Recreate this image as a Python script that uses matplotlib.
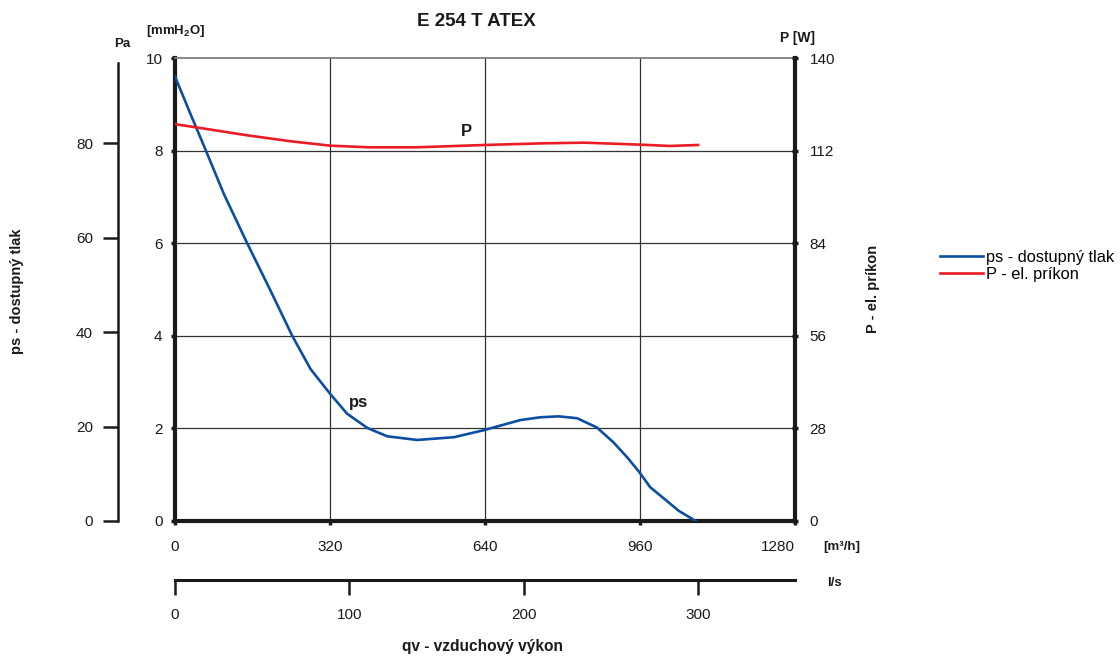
import matplotlib
matplotlib.use("Agg")
import matplotlib.pyplot as plt
import numpy as np

plt.rcParams['font.family'] = ['Liberation Sans', 'DejaVu Sans']
plt.rcParams['mathtext.fontset'] = 'custom'
plt.rcParams['mathtext.bf'] = 'Liberation Sans:bold'

# values
ps_q = [0, 32, 61, 101, 149, 197, 242, 280, 320, 355, 397, 438, 500, 576,
        637, 713, 754, 792, 830, 871, 905, 934, 959, 981, 1002, 1040, 1075]   # m3/h
ps_mm = [9.60, 8.79, 8.07, 7.06, 6.00, 4.98, 4.00, 3.28, 2.75, 2.32, 2.01,
         1.83, 1.75, 1.81, 1.96, 2.18, 2.24, 2.26, 2.22, 2.02, 1.70, 1.37,
         1.05, 0.73, 0.55, 0.22, 0.0]                                         # mmH2O

p_q = [0, 45, 150, 240, 320, 400, 500, 640, 760, 845, 960, 1022, 1080]   # m3/h
p_w = [120.0, 119.0, 116.6, 114.8, 113.5, 113.0, 113.0, 113.7, 114.2,
       114.4, 113.8, 113.4, 113.7]                                        # W

q_ticks = [0, 320, 640, 960, 1280]
mm_ticks = [0, 2, 4, 6, 8, 10]
w_ticks = [0, 28, 56, 84, 112, 140]
pa_ticks = [0, 20, 40, 60, 80]
ls_ticks = [0, 100, 200, 300]

BLUE = '#0b4ea2'
RED = '#ec1c24'
INK = '#1a1a1a'
W, H = 1120, 657

fig = plt.figure(figsize=(11.2, 6.57), dpi=100)
rect = [175 / W, 1 - 521 / H, 620 / W, 463 / H]

ax = fig.add_axes(rect)
ax.set_xlim(0, 1280)
ax.set_ylim(0, 10)
ax.set_xticks(q_ticks)
ax.set_yticks(mm_ticks)
for v in q_ticks[1:-1]:
    ax.axvline(v, color='#333333', lw=0.9, zorder=1)
for v in mm_ticks[1:-1]:
    ax.axhline(v, color='#333333', lw=0.9, zorder=1)
ax.spines['top'].set_color('#808080')
ax.spines['top'].set_linewidth(1.3)
for s in ['left', 'right', 'bottom']:
    ax.spines[s].set_linewidth(3)
    ax.spines[s].set_color(INK)
ax.tick_params(axis='x', direction='out', length=3, width=2.5, pad=11,
               labelsize=11, colors=INK)
ax.tick_params(axis='y', direction='out', length=3, width=2.5, pad=6,
               labelsize=11, colors=INK)
ax.get_xticklabels()[-1].set_horizontalalignment('right')
ax.get_xticklabels()[-1].set_x(1280)

ln_ps, = ax.plot(ps_q, ps_mm, color=BLUE, lw=1.9, zorder=3,
                 label='ps - dostupný tlak')

# power on right axis
axp = ax.twinx()
axp.set_ylim(0, 140)
axp.set_yticks(w_ticks)
for s in axp.spines.values():
    s.set_visible(False)
axp.tick_params(axis='y', direction='inout', length=5, width=2.5, pad=8,
                labelsize=11, colors=INK)
ln_p, = axp.plot(p_q, p_w, color=RED, lw=1.9, zorder=3,
                 label='P - el. príkon')

ax.text(601, 8.41, 'P', fontsize=12, fontweight='bold', ha='center',
        va='center', color=INK)
ax.text(380, 2.55, 'ps', fontsize=12, fontweight='bold', ha='center',
        va='center', color=INK)

# Pa scale on the far left
axpa = fig.add_axes(rect)
axpa.patch.set_visible(False)
axpa.set_ylim(0, 98.1)
axpa.set_xticks([])
axpa.set_yticks(pa_ticks)
for s in ['top', 'right', 'bottom']:
    axpa.spines[s].set_visible(False)
axpa.spines['left'].set_position(('outward', 41))
axpa.spines['left'].set_bounds(0, 97)
axpa.spines['left'].set_linewidth(1.8)
axpa.spines['left'].set_color(INK)
axpa.tick_params(axis='y', direction='out', length=11, width=1.8, pad=7,
                 labelsize=11, colors=INK)

# l/s scale below
axls = fig.add_axes([175 / W, 1 - 580 / H, 620 / W, 0.01])
axls.patch.set_visible(False)
axls.set_xlim(0, 1280 / 3.6)
axls.set_xticks(ls_ticks)
axls.set_yticks([])
for s in ['top', 'right', 'left']:
    axls.spines[s].set_visible(False)
axls.spines['bottom'].set_linewidth(2.2)
axls.spines['bottom'].set_color(INK)
axls.tick_params(axis='x', direction='out', length=11, width=1.8, pad=9,
                 labelsize=11, colors=INK)

# texts
fig.text(476 / W, 1 - 22 / H, 'E 254 T ATEX', fontsize=13.5, fontweight='bold',
         ha='center', va='center', color=INK)
fig.text(122 / W, 1 - 44 / H, 'Pa', fontsize=9.5, fontweight='bold',
         ha='center', va='center', color=INK)
fig.text(176 / W, 1 - 31 / H, r'[mmH$\mathbf{_2}$O]', fontsize=9.5,
         fontweight='bold', ha='center', va='center', color=INK)
fig.text(797 / W, 1 - 38 / H, 'P [W]', fontsize=10, fontweight='bold',
         ha='center', va='center', color=INK)
fig.text(842 / W, 1 - 547 / H, '[m³/h]', fontsize=9.5, fontweight='bold',
         ha='center', va='center', color=INK)
fig.text(834 / W, 1 - 583 / H, 'l/s', fontsize=9.5, fontweight='bold',
         ha='center', va='center', color=INK)
fig.text(482 / W, 1 - 647 / H, 'qv - vzduchový výkon', fontsize=11.2,
         fontweight='bold', ha='center', va='center', color=INK)
fig.text(17 / W, 1 - 291 / H, 'ps - dostupný tlak', fontsize=10.5,
         fontweight='bold', rotation=90, ha='center', va='center', color=INK)
fig.text(873 / W, 1 - 289 / H, 'P - el. príkon', fontsize=10.5,
         fontweight='bold', rotation=90, ha='center', va='center', color=INK)

fig.legend(handles=[ln_ps, ln_p], loc='upper left',
           bbox_to_anchor=(932 / W, 1 - 242 / H), frameon=False,
           fontsize=11.8, handlelength=2.6, handletextpad=0.2,
           labelspacing=0.12, borderpad=0)

fig.savefig('out.png', dpi=100)
